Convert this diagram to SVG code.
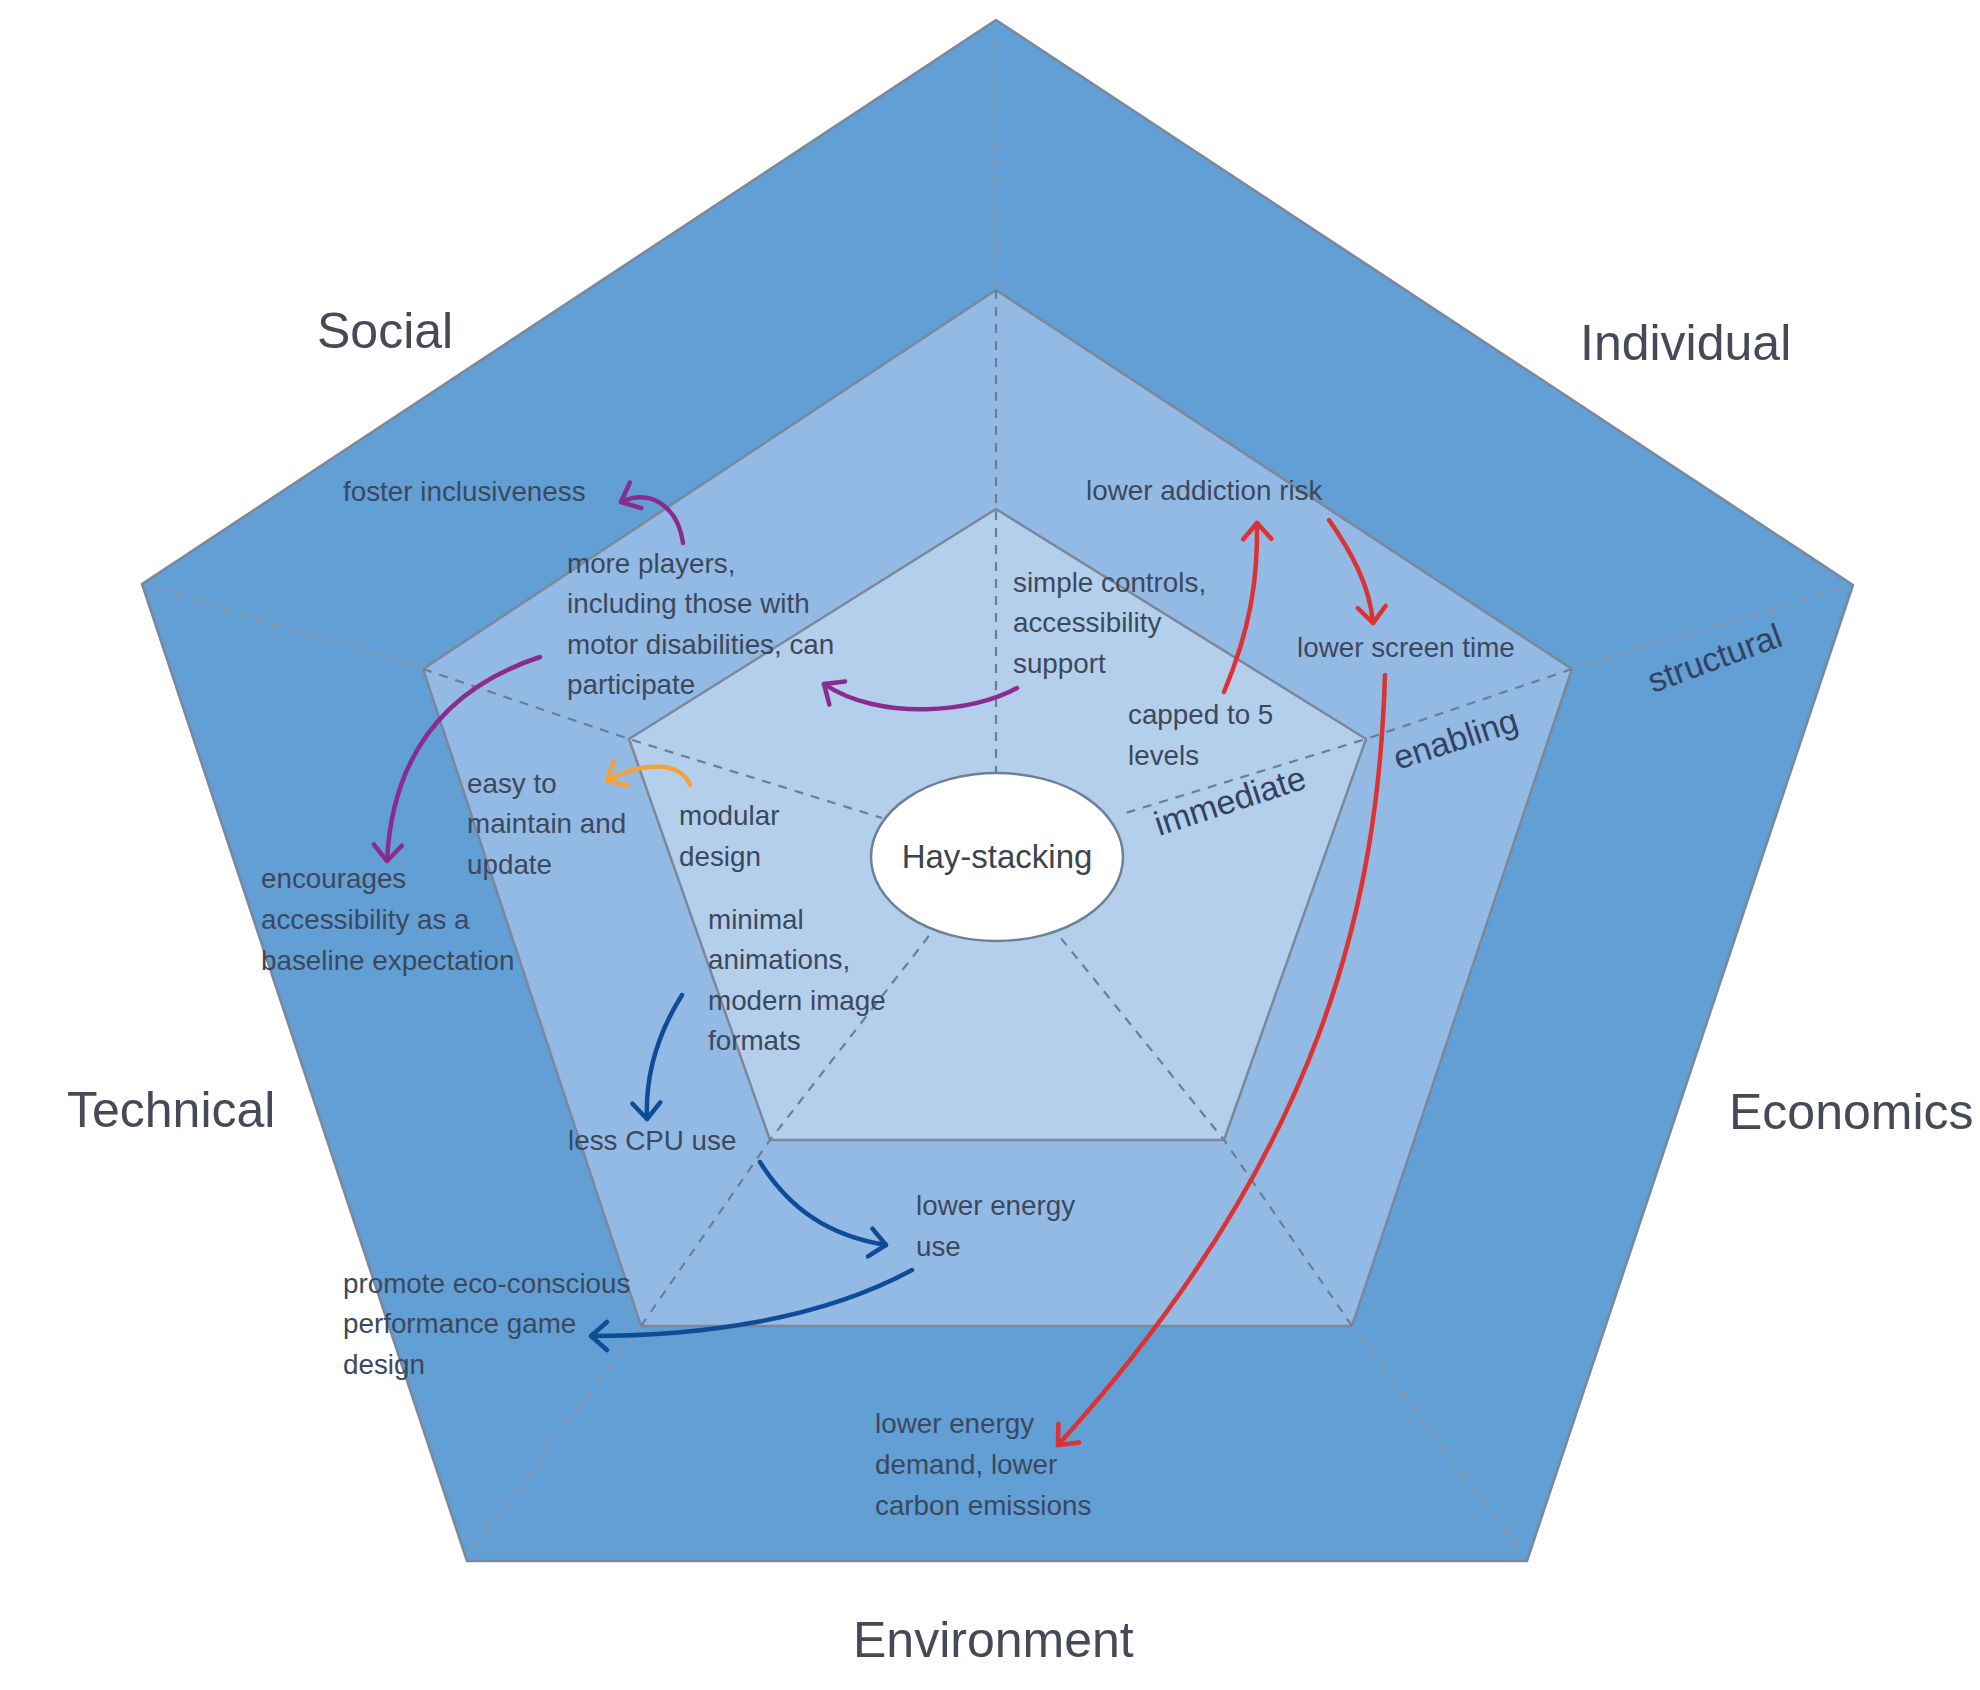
<svg xmlns="http://www.w3.org/2000/svg" width="1980" height="1690" viewBox="0 0 1980 1690">
<style>
.lbl{font-family:"Liberation Sans",Arial,sans-serif;font-size:27.8px;fill:#3c485c}
.cat{font-family:"Liberation Sans",Arial,sans-serif;font-size:50px;fill:#464a56}
.lvl{font-family:"Liberation Sans",Arial,sans-serif;font-size:34px;fill:#33425e}
.pent{stroke:#7b879b;stroke-width:2.5;stroke-linejoin:round}
.dsh-o{fill:none;stroke:#8b96a8;stroke-width:2.2;stroke-dasharray:9 8}
.dsh-i{fill:none;stroke:#6a7d99;stroke-width:2.2;stroke-dasharray:9 8}
.arr{fill:none;stroke-width:4.5;stroke-linecap:round}
</style>
<defs>
<marker id="mP" markerUnits="userSpaceOnUse" markerWidth="40" markerHeight="40" refX="0" refY="0" viewBox="-22 -20 30 40" orient="auto"><path d="M-16,-14 L0,0 L-16,14" fill="none" stroke="#8a2c8f" stroke-width="4.5" stroke-linecap="round" stroke-linejoin="round"/></marker>
<marker id="mR" markerUnits="userSpaceOnUse" markerWidth="40" markerHeight="40" refX="0" refY="0" viewBox="-22 -20 30 40" orient="auto"><path d="M-16,-14 L0,0 L-16,14" fill="none" stroke="#dc3232" stroke-width="4.5" stroke-linecap="round" stroke-linejoin="round"/></marker>
<marker id="mB" markerUnits="userSpaceOnUse" markerWidth="40" markerHeight="40" refX="0" refY="0" viewBox="-22 -20 30 40" orient="auto"><path d="M-16,-14 L0,0 L-16,14" fill="none" stroke="#0f4c96" stroke-width="4.5" stroke-linecap="round" stroke-linejoin="round"/></marker>
<marker id="mO" markerUnits="userSpaceOnUse" markerWidth="40" markerHeight="40" refX="0" refY="0" viewBox="-22 -20 30 40" orient="auto"><path d="M-16,-14 L0,0 L-16,14" fill="none" stroke="#f2a23a" stroke-width="4.5" stroke-linecap="round" stroke-linejoin="round"/></marker>
</defs>
<rect width="1980" height="1690" fill="#ffffff"/>
<g id="pentagons">
<polygon id="outer" class="pent" fill="#629fd5" points="996,20 1853,585 1527,1561 467,1561 142,584"/>
<polygon id="middle" class="pent" fill="#93bae5" points="996,290 1572,669 1352,1326 641,1326 423,669"/>
<polygon id="inner" class="pent" fill="#b4cfec" points="996,509 1366,739 1224,1140 770,1140 629,739"/>
</g>
<g id="spokes">
<polyline class="dsh-o" points="996,40 996,290"/>
<polyline class="dsh-i" points="996,290 996,773"/>
<polyline class="dsh-o" points="1840,589 1572,669"/>
<polyline class="dsh-i" points="1572,669 1366,739 1119,815"/>
<polyline class="dsh-o" points="158,589 423,669"/>
<polyline class="dsh-i" points="423,669 629,739 882,818"/>
<polyline class="dsh-o" points="474,1547 641,1326"/>
<polyline class="dsh-i" points="641,1326 770,1140 932,932"/>
<polyline class="dsh-o" points="1518,1547 1352,1326"/>
<polyline class="dsh-i" points="1352,1326 1224,1140 1060,937"/>
</g>
<g id="levels">
<text class="lvl" x="1159" y="836" transform="rotate(-18 1159 836)">immediate</text>
<text class="lvl" x="1398" y="770" transform="rotate(-18 1398 770)">enabling</text>
<text class="lvl" x="1653" y="693" transform="rotate(-20 1653 693)">structural</text>
</g>
<g id="categories">
<text class="cat" x="317" y="348">Social</text>
<text class="cat" x="1580" y="360">Individual</text>
<text class="cat" x="67" y="1127">Technical</text>
<text class="cat" x="1729" y="1129">Economics</text>
<text class="cat" x="853" y="1657">Environment</text>
</g>
<g id="center">
<ellipse cx="997" cy="857" rx="126" ry="84" fill="#ffffff" stroke="#6e7f99" stroke-width="2.5"/>
<text x="997" y="868" text-anchor="middle" font-family="Liberation Sans, Arial, sans-serif" font-size="33" fill="#3e4350">Hay-stacking</text>
</g>
<g id="node-foster"><text class="lbl" x="343" y="501">foster inclusiveness</text></g>
<g id="node-moreplayers"><text class="lbl" x="567"><tspan x="567" y="573">more players,</tspan><tspan x="567" y="613">including those with</tspan><tspan x="567" y="654">motor disabilities, can</tspan><tspan x="567" y="694">participate</tspan></text></g>
<g id="node-addiction"><text class="lbl" x="1086" y="500">lower addiction risk</text></g>
<g id="node-simple"><text class="lbl" x="1013"><tspan x="1013" y="592">simple controls,</tspan><tspan x="1013" y="632">accessibility</tspan><tspan x="1013" y="673">support</tspan></text></g>
<g id="node-screen"><text class="lbl" x="1297" y="657">lower screen time</text></g>
<g id="node-capped"><text class="lbl" x="1128"><tspan x="1128" y="724">capped to 5</tspan><tspan x="1128" y="765">levels</tspan></text></g>
<g id="node-easy"><text class="lbl" x="467"><tspan x="467" y="793">easy to</tspan><tspan x="467" y="833">maintain and</tspan><tspan x="467" y="874">update</tspan></text></g>
<g id="node-modular"><text class="lbl" x="679"><tspan x="679" y="825">modular</tspan><tspan x="679" y="866">design</tspan></text></g>
<g id="node-encourages"><text class="lbl" x="261"><tspan x="261" y="888">encourages</tspan><tspan x="261" y="929">accessibility as a</tspan><tspan x="261" y="970">baseline expectation</tspan></text></g>
<g id="node-minimal"><text class="lbl" x="708"><tspan x="708" y="929">minimal</tspan><tspan x="708" y="969">animations,</tspan><tspan x="708" y="1010">modern image</tspan><tspan x="708" y="1050">formats</tspan></text></g>
<g id="node-cpu"><text class="lbl" x="568" y="1150">less CPU use</text></g>
<g id="node-energyuse"><text class="lbl" x="916"><tspan x="916" y="1215">lower energy</tspan><tspan x="916" y="1256">use</tspan></text></g>
<g id="node-promote"><text class="lbl" x="343"><tspan x="343" y="1293">promote eco-conscious</tspan><tspan x="343" y="1333">performance game</tspan><tspan x="343" y="1374">design</tspan></text></g>
<g id="node-demand"><text class="lbl" x="875"><tspan x="875" y="1433">lower energy</tspan><tspan x="875" y="1474">demand, lower</tspan><tspan x="875" y="1515">carbon emissions</tspan></text></g>
<g id="connectors">
<path class="arr" stroke="#8a2c8f" marker-end="url(#mP)" d="M683,543 C678,508 652,488 621,502"/>
<path class="arr" stroke="#8a2c8f" marker-end="url(#mP)" d="M1017,688 C975,712 880,722 824,684"/>
<path class="arr" stroke="#8a2c8f" marker-end="url(#mP)" d="M540,657 C440,690 392,760 387,861"/>
<path class="arr" stroke="#f2a23a" marker-end="url(#mO)" d="M690,785 C680,760 640,762 607,781"/>
<path class="arr" stroke="#0f4c96" marker-end="url(#mB)" d="M682,995 C660,1030 645,1070 647,1119"/>
<path class="arr" stroke="#0f4c96" marker-end="url(#mB)" d="M760,1162 C790,1210 830,1236 886,1245"/>
<path class="arr" stroke="#0f4c96" marker-end="url(#mB)" d="M912,1270 C820,1320 700,1336 591,1336"/>
<path class="arr" stroke="#dc3232" marker-end="url(#mR)" d="M1224,692 C1250,630 1258,580 1257,523"/>
<path class="arr" stroke="#dc3232" marker-end="url(#mR)" d="M1329,520 C1350,550 1370,585 1373,623"/>
<path class="arr" stroke="#dc3232" marker-end="url(#mR)" d="M1385,675 C1378,900 1325,1150 1058,1445"/>
</g>
</svg>
